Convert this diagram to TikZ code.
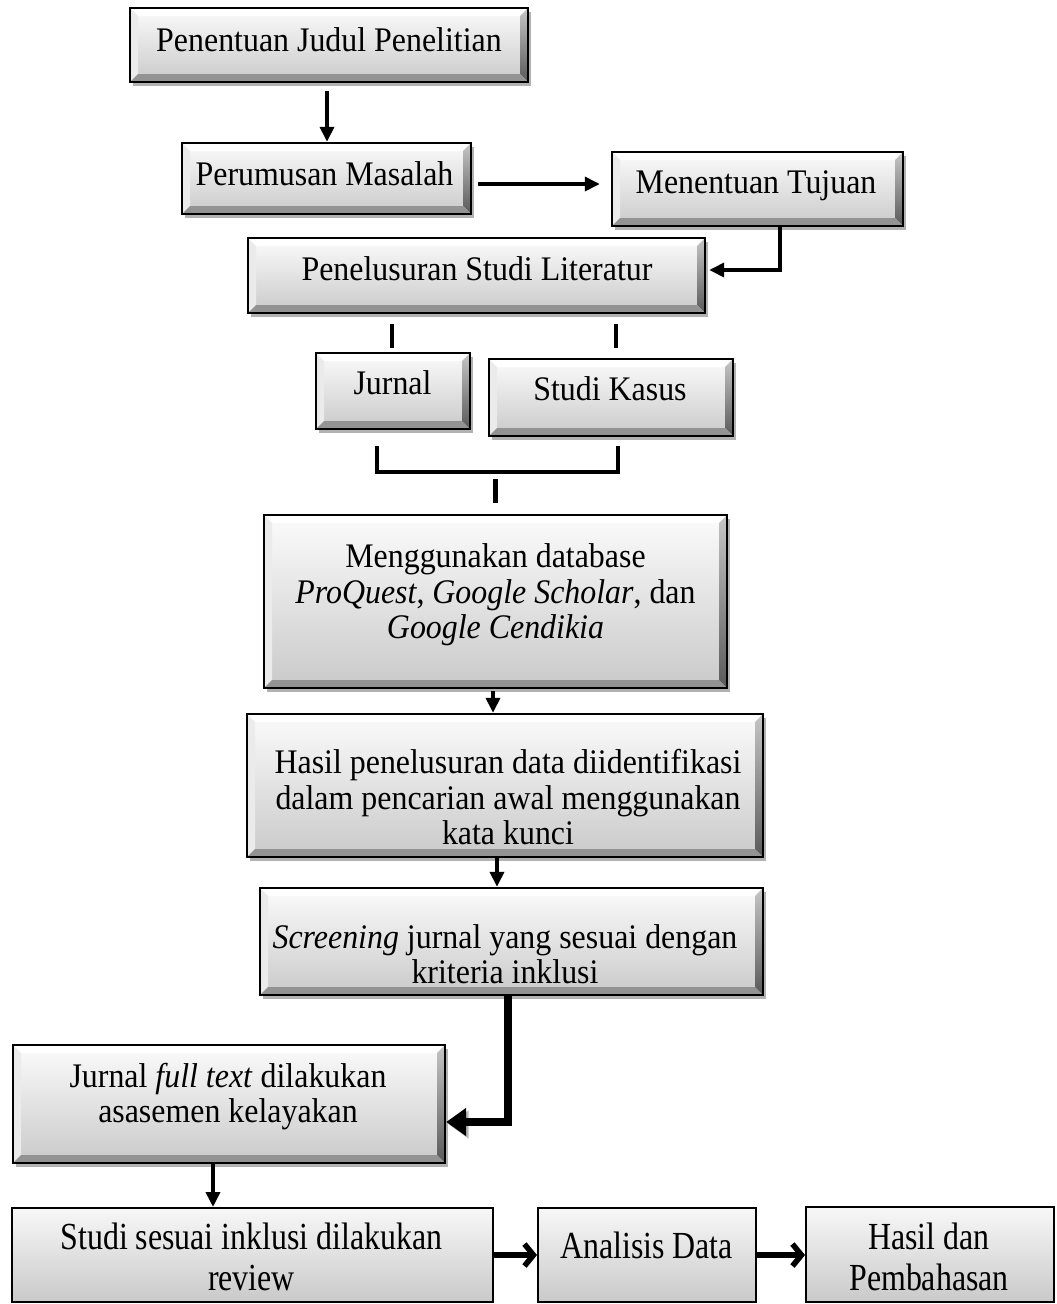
\documentclass[tikz,border=0pt]{standalone}
\usepackage{fontspec}
\setmainfont{Liberation Serif}
\usetikzlibrary{arrows.meta,shadows}
\newcommand\fsz{\fontsize{31.9}{32.5}\selectfont}
\newcommand\fszb{\fontsize{31.9}{33.4}\selectfont}
\newcommand\tx[1]{\scalebox{1}[1.08]{\begin{tabular}{@{}c@{}}#1\end{tabular}}}
\newcommand\txb[1]{\scalebox{1}[1.2]{\fszb\begin{tabular}{@{}c@{}}#1\end{tabular}}}
\def\ppb{path picture bounding box}
\tikzset{
  box/.style={rectangle, draw=black, line width=2.4pt, inner sep=0pt,
    top color=gray!3, bottom color=gray!42,
    drop shadow={shadow xshift=3pt, shadow yshift=-4pt, fill=black, opacity=0.3},
    path picture={
      \fill[white] (\ppb.north west) -- (\ppb.north east) -- ([shift={(-8pt,-8pt)}]\ppb.north east) -- ([shift={(8pt,-8pt)}]\ppb.north west) -- cycle;
      \fill[gray!16] (\ppb.north west) -- (\ppb.south west) -- ([shift={(8pt,8pt)}]\ppb.south west) -- ([shift={(8pt,-8pt)}]\ppb.north west) -- cycle;
      \shade[top color=gray!45, bottom color=black!65] (\ppb.north east) -- (\ppb.south east) -- ([shift={(-8pt,8pt)}]\ppb.south east) -- ([shift={(-8pt,-8pt)}]\ppb.north east) -- cycle;
      \fill[gray!85] (\ppb.south west) -- (\ppb.south east) -- ([shift={(-8pt,8pt)}]\ppb.south east) -- ([shift={(8pt,8pt)}]\ppb.south west) -- cycle;
    }},
  flat/.style={rectangle, draw=black, line width=2pt, inner sep=0pt,
    top color=gray!6, bottom color=gray!42},
  txt/.style={font=\fsz, inner sep=0pt},
  con/.style={line width=3.6pt, -{Triangle[length=15pt,width=14pt]}},
  bar/.style={line width=4.2pt},
  fat/.style={line width=8pt, -{Triangle[length=20pt,width=27pt]},
    preaction={draw=gray!55, transform canvas={shift={(2.5pt,-2.5pt)}}}},
  barb/.style={line width=5.5pt, -{Straight Barb[length=9pt,width=22pt]},
    preaction={draw=gray!55, transform canvas={shift={(1.5pt,-2.5pt)}}}}
}
\begin{document}
\begin{tikzpicture}[x=1pt,y=-1pt]
\useasboundingbox (0,0) rectangle (1057,1304);
\clip (0,0) rectangle (1057,1304);

% boxes
\node[box, minimum width=398pt, minimum height=74pt] (A) at (329,45) {};
\node[box, minimum width=289pt, minimum height=71pt] (B) at (326.5,178.5) {};
\node[box, minimum width=291pt, minimum height=74pt] (C) at (757.5,189) {};
\node[box, minimum width=457pt, minimum height=75pt] (D) at (476.5,275.5) {};
\node[box, minimum width=154pt, minimum height=76pt] (E) at (393,391) {};
\node[box, minimum width=244pt, minimum height=77pt] (F) at (611,397.5) {};
\node[box, minimum width=463pt, minimum height=173pt] (G) at (495.5,601.5) {};
\node[box, minimum width=516pt, minimum height=143pt] (H) at (505,785.5) {};
\node[box, minimum width=503pt, minimum height=107pt] (I) at (511.5,941.5) {};
\node[box, minimum width=432pt, minimum height=118pt] (J) at (229,1104) {};
\node[flat, minimum width=481pt, minimum height=94pt] (K) at (252.5,1255) {};
\node[flat, minimum width=218pt, minimum height=94pt] (L) at (647,1255) {};
\node[flat, minimum width=248pt, minimum height=95pt] (M) at (930,1254.5) {};

% texts
\node[txt] (tA) at (329,44) {\tx{Penentuan Judul Penelitian}};
\node[txt] (tB) at (324.5,178) {\tx{Perumusan Masalah}};
\node[txt] (tC) at (756,186) {\tx{Menentuan Tujuan}};
\node[txt] (tD) at (477,273) {\tx{Penelusuran Studi Literatur}};
\node[txt] (tE) at (392.5,387) {\tx{Jurnal}};
\node[txt] (tF) at (610,393) {\tx{Studi Kasus}};
\node[txt] (tG) at (495.5,596) {\tx{Menggunakan database\\\textit{ProQuest}, \textit{Google Scholar}, dan\\\textit{Google Cendikia}}};
\node[txt] (tH) at (508,802) {\tx{Hasil penelusuran data diidentifikasi\\dalam pencarian awal menggunakan\\kata kunci}};
\node[txt] (tI) at (505,959) {\tx{\textit{Screening} jurnal yang sesuai dengan\\kriteria inklusi}};
\node[txt] (tJ) at (228,1098) {\tx{Jurnal \textit{full text} dilakukan\\asasemen kelayakan}};
\node[txt] (tK) at (251.5,1262) {\txb{Studi sesuai inklusi dilakukan\\review}};
\node[txt] (tL) at (646.5,1250) {\txb{Analisis Data}};
\node[txt] (tM) at (929,1262) {\txb{Hasil dan\\Pembahasan}};

% connectors
\draw[con] ([shift={(-2pt,-8pt)}]A.south) coordinate (a1) -- (a1 |- B.north);
\draw[con, shorten >=11pt] ([shift={(6pt,-5.5pt)}]B.east) coordinate (b1) -- (b1 -| C.west);
\draw[con, shorten >=3pt] ([xshift=22.5pt]C.south) |- ([yshift=5.5pt]D.east);
\draw[bar] ([shift={(-84.5pt,-10pt)}]D.south) -- ++(0,24);
\draw[bar] ([shift={(139.5pt,-10pt)}]D.south) -- ++(0,24);
\draw[bar] ([shift={(-16pt,-16pt)}]E.south) -- ++(0,26) -| ([shift={(7pt,-9pt)}]F.south);
\draw[bar] ([yshift=11pt]G.north) -- ++(0,-24);
\draw[con] ([shift={(-2.5pt,-2pt)}]G.south) coordinate (g1) -- (g1 |- H.north);
\draw[con] ([shift={(-8pt,0pt)}]H.south) coordinate (h1) -- (h1 |- I.north);
\draw[fat] ([xshift=-3.5pt]I.south) |- ([yshift=-18pt]J.east);
\draw[con] ([xshift=-16pt]J.south) coordinate (j1) -- (j1 |- K.north);
\draw[barb] (K.east) -- (L.west);
\draw[barb] (L.east) -- (L.east -| M.west);
\end{tikzpicture}
\end{document}
